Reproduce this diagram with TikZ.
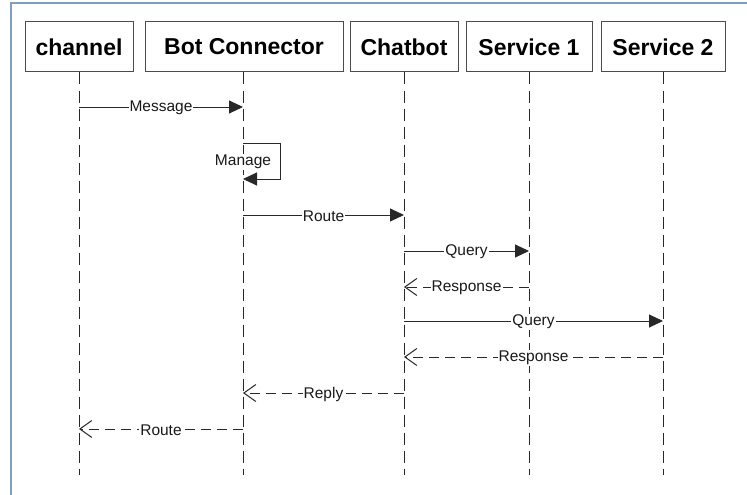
\documentclass[tikz,border=0pt]{standalone}
\usepackage{fontspec}
\setmainfont{Liberation Sans}
\usetikzlibrary{arrows.meta,calc}
\definecolor{framec}{RGB}{128,158,192}
\definecolor{linec}{RGB}{40,40,40}
\begin{document}
\begin{tikzpicture}[x=1pt,y=-1pt,
  head/.style={draw=black!70, line width=1pt, minimum height=50pt, inner sep=0pt,
    font=\fontsize{23}{25}\selectfont\bfseries, text=black},
  life/.style={draw=linec, line width=1pt, dash pattern=on 12pt off 6pt},
  callmsg/.style={draw=linec, line width=1pt, -{Triangle[length=14pt,width=13pt]}},
  retmsg/.style={draw=linec, line width=1pt, dash pattern=on 10pt off 6pt,
    -{Straight Barb[length=12pt,width=17pt,line width=1pt]}},
  lbl/.style={fill=white, inner sep=1pt, yshift=-1pt, text=black!90, font=\fontsize{15.5}{17}\selectfont}
]
\useasboundingbox (0,0) rectangle (747,495);
\fill[white] (0,0) rectangle (747,495);
\draw[framec, line width=1.6pt] (11,495) -- (11,3) -- (747,3);

% heads
\node[head, minimum width=108pt] (ch) at (79,47) {channel};
\node[head, minimum width=198pt] (bc) at (244,47) {Bot Connector};
\node[head, minimum width=108pt] (cb) at (404,47) {Chatbot};
\node[head, minimum width=126pt] (s1) at (529,47) {Service 1};
\node[head, minimum width=124pt] (s2) at (663,47) {Service 2};

% lifeline ends
\coordinate (chE) at (79,475);
\coordinate (bcE) at (243,475);
\coordinate (cbE) at (404,475);
\coordinate (s1E) at (529,475);
\coordinate (s2E) at (663,475);
\draw[life] (ch.south -| chE) -- (chE);
\draw[life] (bc.south -| bcE) -- (bcE);
\draw[life] (cb.south -| cbE) -- (cbE);
\draw[life] (s1.south -| s1E) -- (s1E);
\draw[life] (s2.south -| s2E) -- (s2E);

% message anchor points
\coordinate (m1a) at (79,107);  \coordinate (m1b) at (243,107);
\coordinate (m2a) at (243,143); \coordinate (m2b) at (243,179);
\coordinate (m3a) at (243,215); \coordinate (m3b) at (404,215);
\coordinate (m4a) at (404,251); \coordinate (m4b) at (529,251);
\coordinate (m5a) at (529,287); \coordinate (m5b) at (404,287);
\coordinate (m6a) at (404,321); \coordinate (m6b) at (663,321);
\coordinate (m7a) at (663,357); \coordinate (m7b) at (404,357);
\coordinate (m8a) at (404,393); \coordinate (m8b) at (243,393);
\coordinate (m9a) at (243,429); \coordinate (m9b) at (79,429);

\draw[callmsg] (m1a) -- node[lbl] (l1) {Message} (m1b);
\draw[callmsg] (m2a) -- ++(37,0) |- (m2b);
\node[lbl] (l2) at ($(m2a)!0.5!(m2b)$) {Manage};
\draw[callmsg] (m3a) -- node[lbl] (l3) {Route} (m3b);
\draw[callmsg] (m4a) -- node[lbl] (l4) {Query} (m4b);
\draw[retmsg] (m5a) -- node[lbl] (l5) {Response} (m5b);
\draw[callmsg] (m6a) -- node[lbl] (l6) {Query} (m6b);
\draw[retmsg] (m7a) -- node[lbl] (l7) {Response} (m7b);
\draw[retmsg] (m8a) -- node[lbl] (l8) {Reply} (m8b);
\draw[retmsg] (m9a) -- node[lbl] (l9) {Route} (m9b);
\end{tikzpicture}
\end{document}
